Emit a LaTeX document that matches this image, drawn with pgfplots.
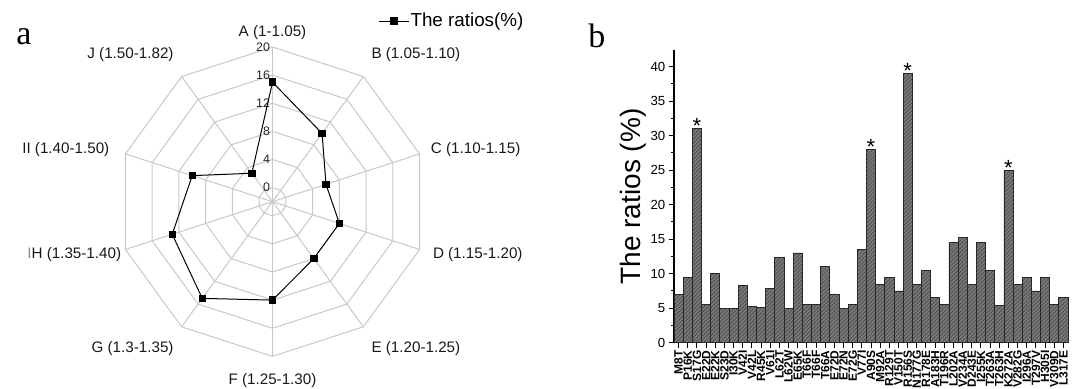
\documentclass[border=0pt]{standalone}
\usepackage{fontspec}
\setmainfont{Liberation Sans}
\newfontfamily\seriffont{Liberation Serif}
\usepackage{pgfplots}
\pgfplotsset{compat=1.18}
\usepackage{pgfplotstable}
\usetikzlibrary{patterns.meta}
\definecolor{gridc}{RGB}{200,200,200}
\definecolor{barfill}{RGB}{120,120,120}

\pgfplotstableread{
ang v
90 15
54 10
18 6
-18 8
-54 8
-90 12
-126 15
-162 13
162 10
126 3
90 15
}\radar

\pgfplotstableread{
ang d
90 0
54 0
18 0
-18 0
-54 0
-90 0
-126 0
-162 0
162 0
126 0
90 0
}\angs

\pgfplotstableread{
r d
0 0
22 0
}\spoke

\pgfplotstableread{
x v
0 7
1 9.5
2 31
3 5.5
4 10
5 5
6 5
7 8.3
8 5.3
9 5.1
10 7.8
11 12.3
12 5
13 13
14 5.5
15 5.5
16 11
17 7
18 5
19 5.5
20 13.5
21 28
22 8.5
23 9.5
24 7.5
25 39
26 8.5
27 10.5
28 6.5
29 5.6
30 14.5
31 15.2
32 8.5
33 14.5
34 10.5
35 5.4
36 25
37 8.5
38 9.5
39 7.5
40 9.5
41 5.5
42 6.5
}\bars

\begin{document}
\begin{tikzpicture}
\useasboundingbox (0,0) rectangle (538.5pt,194.5pt);

% ---------------- panel a: radar ----------------
\begin{axis}[
  hide axis, x=3.515pt, y=3.515pt,
  xmin=-30, xmax=30, ymin=-30, ymax=30,
  anchor=center, at={(136.25pt,93.65pt)}, clip=false,
  legend style={at={(0.75,0.928)}, anchor=west, draw=none, fill=none,
    inner sep=0pt, font=\fontsize{9.4}{10}\selectfont,
    nodes={inner sep=0.6pt, font=\fontsize{9.4}{10}\selectfont}},
  legend image code/.code={\draw[mark repeat=2,mark phase=2,#1] plot coordinates {(0pt,0pt) (7.5pt,0pt) (15pt,0pt)};},
]
\pgfplotsinvokeforeach{0,4,8,12,16,20}{
  \addplot[gridc, line width=0.5pt, forget plot] table[x expr={(#1+2)*cos(\thisrow{ang})}, y expr={(#1+2)*sin(\thisrow{ang})}] {\angs};
}
\pgfplotsinvokeforeach{90,54,18,-18,-54,-90,-126,-162,162,126}{
  \addplot[gridc, line width=0.5pt, forget plot] table[x expr={\thisrow{r}*cos(#1)}, y expr={\thisrow{r}*sin(#1)}] {\spoke};
}
\pgfplotsinvokeforeach{0,4,8,12,16,20}{
  \node[anchor=east, inner sep=0pt, font=\fontsize{6.2}{7}\selectfont, text=black!85] at (axis cs:-0.3,#1+2) {#1};
}
\addplot[black, line width=0.5pt, mark=square*, mark size=1.6pt, mark options={solid}]
  table[x expr={(\thisrow{v}+2)*cos(\thisrow{ang})}, y expr={(\thisrow{v}+2)*sin(\thisrow{ang})}] {\radar};
\addlegendentry{The ratios(\%)}
\begin{scope}[every node/.style={font=\fontsize{7.6}{8}\selectfont, text=black!90}]
\node at (axis cs:0,24.1) {A (1-1.05)};
\node at (axis cs:20.4,20.9) {B (1.05-1.10)};
\node at (axis cs:28.9,7.35) {C (1.10-1.15)};
\node at (axis cs:29.2,-7.5) {D (1.15-1.20)};
\node at (axis cs:20.4,-20.9) {E (1.20-1.25)};
\node at (axis cs:0,-25.4) {F (1.25-1.30)};
\node at (axis cs:-19.9,-20.9) {G (1.3-1.35)};
\node at (axis cs:-28.2,-7.5) {{\color{black!45}I}H (1.35-1.40)};
\node at (axis cs:-29.4,7.35) {II (1.40-1.50)};
\node at (axis cs:-20.2,20.9) {J (1.50-1.82)};
\end{scope}
\end{axis}

\node[anchor=base west, inner sep=0pt, font=\seriffont\fontsize{17}{17}\selectfont] at (8pt,172pt) {a};
\node[anchor=base west, inner sep=0pt, font=\seriffont\fontsize{17}{17}\selectfont] at (294pt,170.5pt) {b};
\node[rotate=90, inner sep=0pt, font=\fontsize{14}{14}\selectfont] at (316.5pt,96.25pt) {The ratios (\%)};

% ---------------- panel b: bars ----------------
\begin{axis}[
  at={(337pt,23.15pt)}, anchor=south west,
  scale only axis, width=197pt, height=146.35pt,
  xmin=-0.5, xmax=42.5, ymin=0, ymax=42.4,
  axis x line=bottom, axis y line=left,
  axis line style={-, line width=0.7pt},
  ytick={0,5,...,40}, minor y tick num=1,
  xtick={0,...,42},
  xticklabels={M8T,P16K,S17G,E22D,E22K,S23D,I30K,V42I,V42L,R45K,V61I,L62T,L62W,E65K,T66F,T66F,T66A,E72D,E72N,E72G,V77I,A90S,M92A,R129T,V150T,R156S,N177G,R178E,A183H,T196R,L202A,V234A,D243E,I255K,T263A,T263H,K272A,V282G,I296A,T297V,H305I,V309D,L317E},
  x tick label style={rotate=90, anchor=east, font=\fontsize{6}{6}\selectfont\bfseries, inner sep=1pt},
  y tick label style={font=\fontsize{6.6}{7}\selectfont, inner sep=1.5pt},
  tick align=outside, major tick length=2.7pt, minor tick length=1.5pt,
  tick style={black, line width=0.5pt},
  /pgf/number format/assume math mode=true,
  clip=false,
]
\addplot[ybar, bar width=1, bar shift=0pt, draw=black!85, line width=0.35pt, fill=barfill,
  postaction={pattern={Lines[angle=45,distance=1.4pt,line width=0.35pt]}, pattern color=black!70}]
  table[x=x, y=v] {\bars};
\begin{scope}[every node/.style={anchor=base, inner sep=0pt, font=\fontsize{11}{11}\selectfont, yshift=-2.5pt}]
\node at (axis cs:2,31) {*};
\node at (axis cs:21,28) {*};
\node at (axis cs:25,39) {*};
\node at (axis cs:36,25) {*};
\end{scope}
\end{axis}
\end{tikzpicture}
\end{document}
